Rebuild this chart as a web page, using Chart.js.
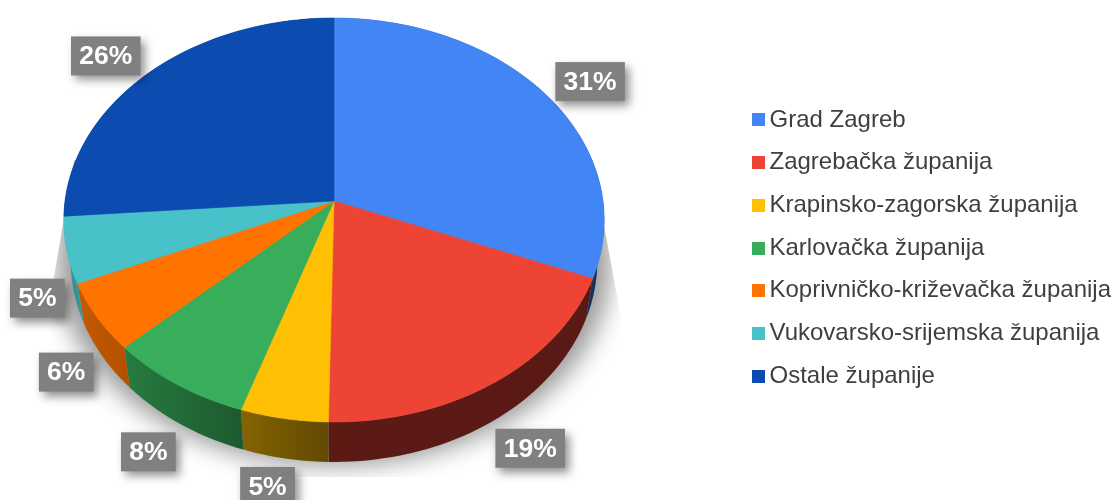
<!DOCTYPE html>
<html><head><meta charset="utf-8">
<style>html,body{margin:0;padding:0;background:#fff}#w{width:1115px;height:500px}</style>
<script src="https://cdn.jsdelivr.net/npm/chart.js@4"></script>
</head><body><div id="w"><canvas id="c" width="1115" height="500"></canvas></div>
<script>
const categories = ['Grad Zagreb','Zagrebačka županija','Krapinsko-zagorska županija','Karlovačka županija','Koprivničko-križevačka županija','Vukovarsko-srijemska županija','Ostale županije'];
const shares = [31.1,19.2,4.8,7.9,5.5,5.3,26.2];
const colours = ['#4286f6','#ee4435','#ffc003','#38ae5b','#ff7300','#48c1c9','#0c4cb0'];

// perspective projection of the unit disc
const P = {cx:334, cy:201, a:181.3, p:-0.094, A:269};
function projY(v){return (P.a*v+P.cy)/(1+P.p*v);}
function upper(a,k=1){const u=k*Math.cos(a),v=k*Math.sin(a),w=1+P.p*v;return [P.cx+P.A*u/w,projY(v)];}
const DEPTH=40, SHRINK=0.975;
function lower(a){const t=upper(a);return [P.cx+(t[0]-P.cx)*SHRINK,t[1]+DEPTH];}
function shade(hex,f){const n=parseInt(hex.slice(1),16);return `rgb(${(n>>16&255)*f|0},${(n>>8&255)*f|0},${(n&255)*f|0})`;}
function wallF(x){return x>=330?0.38:Math.min(0.78,0.38+(330-x)*0.0016);}
const labelNudge=[[0.5,9],[-4,22],[-4,14],[10,23],[25,28],[31,37],[-5,9]];

const persp={id:'persp',
 beforeDatasetDraw(chart,args){
  const ctx=chart.ctx,arcs=args.meta.data,N=90;
  const ring=(f)=>{for(let i=0;i<=N*2;i++){const a=i/(N*2)*Math.PI*2,q=f(a);i?ctx.lineTo(q[0],q[1]):ctx.moveTo(q[0],q[1]);}ctx.closePath();};
  // soft shadow clipped to its plane
  ctx.save();
  ctx.beginPath();[[74,160],[50,300],[50,477],[625,477],[625,340],[604,225]].forEach((q,i)=>i?ctx.lineTo(q[0],q[1]):ctx.moveTo(q[0],q[1]));ctx.closePath();ctx.clip();
  ctx.shadowColor='rgba(0,0,0,0.40)';ctx.shadowBlur=24;ctx.shadowOffsetX=2000;ctx.shadowOffsetY=4;
  ctx.fillStyle='#000';
  ctx.beginPath();
  ring(a=>{const q=lower(a);return [q[0]-2000+(q[0]-P.cx)*0.05,q[1]];});
  ring(a=>{const q=upper(a);return [q[0]-2000+(q[0]-P.cx)*0.02,q[1]];});
  ctx.fill();
  ctx.restore();
  // walls
  arcs.forEach((el,i)=>{
   const s=el.startAngle,e=el.endAngle,n=Math.max(6,Math.ceil((e-s)*40));
   ctx.beginPath();
   for(let j=0;j<=n;j++){const q=upper(s+(e-s)*j/n);j?ctx.lineTo(q[0],q[1]):ctx.moveTo(q[0],q[1]);}
   for(let j=n;j>=0;j--){const q=lower(s+(e-s)*j/n);ctx.lineTo(q[0],q[1]);}
   ctx.closePath();
   const x0=Math.min(upper(s)[0],upper(e)[0]),x1=Math.max(upper(s)[0],upper(e)[0]);
   const g=ctx.createLinearGradient(x0,0,x1,0);
   g.addColorStop(0,shade(colours[i],wallF(x0)));g.addColorStop(1,shade(colours[i],wallF(x1)));
   ctx.fillStyle=g;ctx.fill();
  });
  // upper faces
  arcs.forEach((el,i)=>{
   const s=el.startAngle,e=el.endAngle,n=Math.max(6,Math.ceil((e-s)*40));
   ctx.beginPath();ctx.moveTo(P.cx,P.cy);
   for(let j=0;j<=n;j++){const q=upper(s+(e-s)*j/n);ctx.lineTo(q[0],q[1]);}
   ctx.closePath();ctx.fillStyle=colours[i];ctx.strokeStyle=colours[i];ctx.lineWidth=0.6;ctx.fill();ctx.stroke();
  });
  return false;
 },
 afterDatasetsDraw(chart){
  const ctx=chart.ctx,arcs=chart.getDatasetMeta(0).data,vals=chart.data.datasets[0].data,total=vals.reduce((a,b)=>a+b,0);
  ctx.save();ctx.font='bold 26.5px "Liberation Sans"';ctx.textAlign='center';ctx.textBaseline='middle';
  arcs.forEach((el,i)=>{
   const mid=(el.startAngle+el.endAngle)/2,q=upper(mid,1.22),x=q[0]+labelNudge[i][0],y=q[1]+labelNudge[i][1];
   const t=Math.round(vals[i]/total*100)+'%',w=ctx.measureText(t).width+16.5,h=39;
   ctx.save();ctx.shadowColor='rgba(0,0,0,0.45)';ctx.shadowBlur=9;ctx.shadowOffsetX=4;ctx.shadowOffsetY=5;
   ctx.fillStyle='#808080';ctx.fillRect(x-w/2,y-h/2,w,h);ctx.restore();
   ctx.fillStyle='#fff';ctx.fillText(t,x,y+1);
  });
  ctx.restore();
 },
 afterDraw(chart){
  // legend swatches sit closer to their text than the built-in box allows
  const ctx=chart.ctx;
  chart.legend.legendHitBoxes.forEach((b,i)=>{
   ctx.fillStyle=colours[i];
   ctx.fillRect(Math.round(b.left-9),Math.round(b.top+b.height/2-6.5),13,13);
  });
 }};

new Chart(document.getElementById('c'),{
 type:'pie',
 data:{labels:categories,datasets:[{data:shares,backgroundColor:colours,borderWidth:0}]},
 options:{responsive:false,animation:false,
  layout:{padding:{right:-6,bottom:4}},
  plugins:{tooltip:{enabled:false},
   legend:{position:'right',labels:{usePointStyle:true,pointStyle:'rect',boxWidth:-3,boxHeight:13,padding:18.67,color:'#3f3f3f',font:{family:'"Liberation Sans"',size:24}}}}},
 plugins:[persp]
});
</script></body></html>
